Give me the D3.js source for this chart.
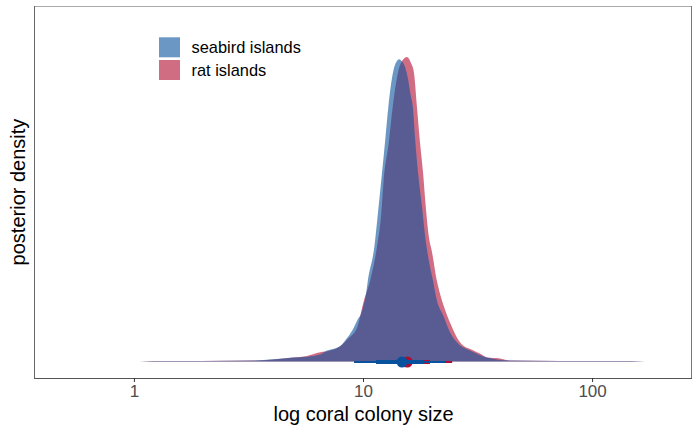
<!DOCTYPE html>
<html>
<head>
<meta charset="utf-8">
<script src="https://cdn.jsdelivr.net/npm/d3@7"></script>
<style>
  html, body { margin: 0; padding: 0; background: #fff; }
  svg { display: block; font-family: "Liberation Sans", Arial, sans-serif; }
</style>
</head>
<body>
<svg id="chart" width="700" height="432"></svg>
<script>
// ---- data ----
const groups = ["seabird islands", "rat islands"];
const groupColors = ["#08519c", "#b00b30"];

// colony size (original scale) and posterior density (relative)
const seabirdSize = [1.06, 1.2, 2.0, 3.3, 4.05, 4.95, 5.7, 6.5, 6.96, 7.55, 7.94, 8.5, 8.95, 9.43, 9.84, 10.0, 10.3, 10.5, 11.2, 11.63, 12.1, 12.5, 12.9, 13.5, 13.9, 14.4, 14.8, 15.3, 15.7, 16.1, 16.5, 16.9, 17.4, 18.1, 18.7, 19.5, 20.2, 21.0, 22.4, 24.0, 26.0, 29.3, 34.8, 43.9, 72, 150, 170];
const seabirdDens = [0, 0.002, 0.002, 0.003, 0.007, 0.013, 0.016, 0.023, 0.036, 0.043, 0.05, 0.076, 0.10, 0.135, 0.16, 0.178, 0.22, 0.266, 0.375, 0.49, 0.618, 0.727, 0.836, 0.947, 0.98, 0.993, 0.985, 0.965, 0.93, 0.88, 0.836, 0.727, 0.618, 0.507, 0.408, 0.32, 0.266, 0.201, 0.151, 0.095, 0.059, 0.036, 0.013, 0.003, 0.002, 0.002, 0];

const ratSize = [1.06, 1.2, 1.94, 3.3, 4.95, 5.7, 6.5, 7.2, 7.94, 8.6, 9.43, 10.1, 10.75, 11.5, 12.0, 12.3, 13.0, 13.5, 14.2, 14.9, 15.56, 16.2, 16.7, 17.2, 17.7, 18.3, 18.8, 19.4, 20.0, 21.0, 22.1, 23.3, 24.5, 25.7, 27.3, 29.9, 32.4, 34.8, 39.6, 43.9, 72, 150, 170];
const ratDens = [0, 0.002, 0.002, 0.003, 0.013, 0.018, 0.03, 0.036, 0.05, 0.075, 0.112, 0.201, 0.266, 0.375, 0.48, 0.59, 0.727, 0.84, 0.947, 0.99, 1.0, 0.98, 0.947, 0.836, 0.727, 0.618, 0.507, 0.408, 0.36, 0.266, 0.201, 0.151, 0.112, 0.079, 0.053, 0.039, 0.026, 0.013, 0.010, 0.003, 0.002, 0.002, 0];

// point intervals: median, 66% and 95% intervals
const medians   = [14.8, 15.6];
const innerLow  = [11.4, 12.2];
const innerHigh = [18.3, 19.6];
const outerLow  = [9.14, 9.6];
const outerHigh = [22.8, 24.5];

const xTicks = [1, 10, 100];
const xTitle = "log coral colony size";
const yTitle = "posterior density";

// ---- layout ----
const svg = d3.select("#chart");
const panel = { left: 35, right: 692, top: 6, bottom: 378 };

const x = d3.scaleLog().domain([0.37, 273]).range([panel.left, panel.right]);
const y = d3.scaleLinear().domain([0, 1]).range([361.5, 57]);
const alpha = 0.6;

const defs = svg.append("defs");
defs.append("clipPath").attr("id", "clip").append("rect")
  .attr("x", panel.left).attr("y", panel.top)
  .attr("width", panel.right - panel.left).attr("height", panel.bottom - panel.top);

const area = d3.area()
  .x(d => x(d[0]))
  .y0(y(0))
  .y1(d => y(d[1]))
  .curve(d3.curveMonotoneX);

const series = [
  d3.zip(seabirdSize, seabirdDens),
  d3.zip(ratSize, ratDens)
];

const g = svg.append("g").attr("clip-path", "url(#clip)");

// rat drawn first, seabird on top
[1, 0].forEach(i => {
  g.append("path")
    .datum(series[i])
    .attr("d", area)
    .attr("fill", groupColors[i])
    .attr("fill-opacity", alpha);
});

// intervals
[1, 0].forEach(i => {
  const yy = y(0) + 0.5;
  g.append("line")
    .attr("x1", x(outerLow[i])).attr("x2", x(outerHigh[i]))
    .attr("y1", yy).attr("y2", yy)
    .attr("stroke", groupColors[i]).attr("stroke-width", 2);
  g.append("line")
    .attr("x1", x(innerLow[i])).attr("x2", x(innerHigh[i]))
    .attr("y1", yy).attr("y2", yy)
    .attr("stroke", groupColors[i]).attr("stroke-width", 4);
  g.append("circle")
    .attr("cx", x(medians[i])).attr("cy", yy).attr("r", 5.5)
    .attr("fill", groupColors[i]);
});

// panel border
svg.append("line")
  .attr("x1", panel.left).attr("x2", panel.right)
  .attr("y1", panel.top + 0.5).attr("y2", panel.top + 0.5)
  .attr("stroke", "#aaaaaa").attr("stroke-width", 1);
svg.append("line")
  .attr("x1", panel.right - 0.5).attr("x2", panel.right - 0.5)
  .attr("y1", panel.top).attr("y2", panel.bottom)
  .attr("stroke", "#777777").attr("stroke-width", 1);
svg.append("line")
  .attr("x1", panel.left - 0.5).attr("x2", panel.left - 0.5)
  .attr("y1", panel.top).attr("y2", panel.bottom + 0.5)
  .attr("stroke", "#666666").attr("stroke-width", 1);

// x axis
const xAxis = d3.axisBottom(x)
  .tickValues(xTicks)
  .tickFormat(d3.format("d"))
  .tickSize(4)
  .tickPadding(3);
const ax = svg.append("g")
  .attr("transform", `translate(0,${panel.bottom})`)
  .call(xAxis);
ax.select(".domain")
  .attr("d", `M${panel.left - 1},0.5H${panel.right}`)
  .attr("stroke", "#555555");
ax.selectAll(".tick line").attr("stroke", "#333333");
ax.selectAll(".tick text")
  .attr("fill", "#4d4d4d")
  .style("font-size", "17px")
  .style("font-family", "Liberation Sans, Arial, sans-serif");

// axis titles
svg.append("text")
  .attr("x", (panel.left + panel.right) / 2)
  .attr("y", 420.5)
  .attr("text-anchor", "middle")
  .attr("fill", "#000")
  .style("font-size", "20px")
  .text(xTitle);

svg.append("text")
  .attr("transform", `translate(25,${(panel.top + panel.bottom) / 2}) rotate(-90)`)
  .attr("text-anchor", "middle")
  .attr("fill", "#000")
  .style("font-size", "20px")
  .text(yTitle);

// legend
const legend = svg.append("g");
groups.forEach((name, i) => {
  const top = 37.3 + i * 22.7;
  legend.append("rect")
    .attr("x", 159).attr("y", top)
    .attr("width", 21).attr("height", 20)
    .attr("fill", groupColors[i]).attr("fill-opacity", alpha);
  legend.append("text")
    .attr("x", 191.5).attr("y", top + 15.5)
    .attr("fill", "#000")
    .style("font-size", "16.4px")
    .text(name);
});
</script>
</body>
</html>
